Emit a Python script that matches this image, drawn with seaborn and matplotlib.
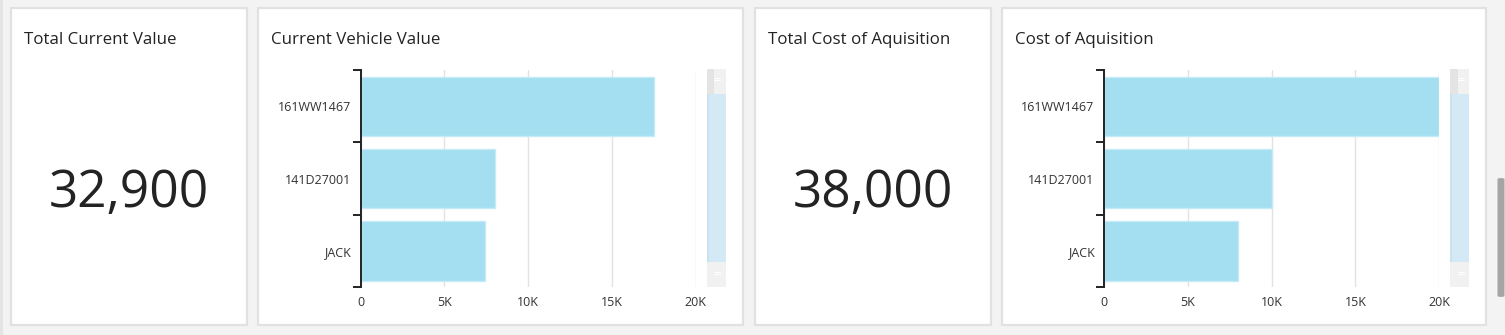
import matplotlib
matplotlib.use("Agg")
import matplotlib.pyplot as plt
import seaborn as sns
import pandas as pd
from matplotlib.patches import Rectangle, FancyBboxPatch

# ---- data ----
vehicles = ["161WW1467", "141D27001", "JACK"]
current_value = [17500, 8000, 7400]
acquisition_cost = [20000, 10000, 8000]
kpi_titles = ["Total Current Value", "Total Cost of Aquisition"]
chart_titles = ["Current Vehicle Value", "Cost of Aquisition"]
x_ticks = [0, 5000, 10000, 15000, 20000]
x_tick_labels = ["0", "5K", "10K", "15K", "20K"]

W, H = 1505, 335
sns.set_theme(style="white")
plt.rcParams['font.family'] = ['Open Sans', 'DejaVu Sans']

fig = plt.figure(figsize=(W / 100, H / 100), dpi=100)
fig.patch.set_facecolor('#f3f3f3')

BAR = '#a3dff0'
TXT = '#232323'


def fx(px):
    return px / W


def fy(py):
    return 1 - py / H


def frect(x0, y0, x1, y1, **kw):
    fig.patches.append(Rectangle((fx(x0), fy(y1)), (x1 - x0) / W, (y1 - y0) / H,
                                 transform=fig.transFigure, **kw))


def panel(x0, x1, title, y0=8, y1=325):
    frect(x0, y0, x1, y1, facecolor='white', edgecolor='#e1e1e1', linewidth=1.6, zorder=-2)
    fig.text(fx(x0 + 13), fy(43.7), title, fontsize=12.2, color=TXT, va='baseline', ha='left')


def kpi(x0, x1, values, title):
    panel(x0, x1, title)
    total = sum(values)
    fig.text(fx((x0 + x1) / 2), fy(206.7), f"{total:,}", fontsize=37, color=TXT,
             ha='center', va='baseline')


def mini_scroll(x0, x1):
    w = x1 - x0
    frect(x0, 69.3, x1, 94.3, facecolor='#f1f1f1', edgecolor='none', zorder=-1)
    frect(x0, 69.3, x0 + w * 0.4, 94.3, facecolor='#e4e4e4', edgecolor='none', zorder=-1)
    frect(x0, 94.3, x1, 261.7, facecolor='#d3eaf6', edgecolor='none', zorder=-1)
    frect(x0, 94.3, x0 + 2, 261.7, facecolor='#c9e2ef', edgecolor='none', zorder=-1)
    frect(x0, 261.7, x1, 286.7, facecolor='#f1f1f1', edgecolor='none', zorder=-1)
    cx = (x0 + x1) / 2 + 1
    for yy in (78.3, 80.3, 271.5, 273.5):
        fig.lines.append(plt.Line2D([fx(cx - 3), fx(cx + 3)], [fy(yy), fy(yy)],
                                    transform=fig.transFigure, color='white', lw=0.8,
                                    zorder=-0.5))


def bar_chart(x0, x1, values, title, spine_px, scroll_px):
    panel(x0, x1, title)
    ax = fig.add_axes([fx(spine_px), fy(287.3), 335 / W, (287.3 - 70) / H])
    ax.set_zorder(3)
    df = pd.DataFrame({"vehicle": vehicles, "value": values})
    sns.barplot(data=df, x="value", y="vehicle", orient="h", color=BAR, saturation=1,
                width=0.82, edgecolor='#c6ebf6', linewidth=1, ax=ax)
    ax.set_xlim(0, 20000)
    ax.set_ylim(2.5, -0.5)
    ax.set_xticks(x_ticks)
    ax.set_xticklabels(x_tick_labels)
    ax.xaxis.grid(True, color='#e2e2e2', linewidth=1)
    ax.yaxis.grid(False)
    ax.set_axisbelow(True)
    for s in ['top', 'right', 'bottom']:
        ax.spines[s].set_visible(False)
    ax.spines['left'].set_color('#222222')
    ax.spines['left'].set_linewidth(1.4)
    ax.tick_params(axis='x', length=0, pad=6, labelsize=9, labelcolor='#333333')
    ax.tick_params(axis='y', which='major', left=False, length=0, pad=7, labelsize=9,
                   labelcolor='#333333')
    ax.set_yticks([-0.5, 0.5, 1.5, 2.5], minor=True)
    ax.tick_params(axis='y', which='minor', left=True, length=6, width=1.4, color='#222222')
    ax.set_xlabel('')
    ax.set_ylabel('')
    ax.set_facecolor('none')
    ax.patch.set_alpha(0)
    mini_scroll(*scroll_px)


kpi(11, 247, current_value, kpi_titles[0])
bar_chart(258, 743, current_value, chart_titles[0], 360.7, (706.7, 725.7))
kpi(755, 991, acquisition_cost, kpi_titles[1])
bar_chart(1002, 1486, acquisition_cost, chart_titles[1], 1104.2, (1450.3, 1468.7))

# page scrollbar
fig.patches.append(FancyBboxPatch((fx(1497.5), fy(297)), 7 / W, 119 / H,
                                  boxstyle="round,pad=0,rounding_size=0.003",
                                  transform=fig.transFigure, facecolor='#a5a5a5',
                                  edgecolor='none'))
frect(0, 0, 3, 335, facecolor='#e4e4e4', edgecolor='none', zorder=-3)

fig.savefig("out.png", dpi=100, facecolor=fig.get_facecolor())
